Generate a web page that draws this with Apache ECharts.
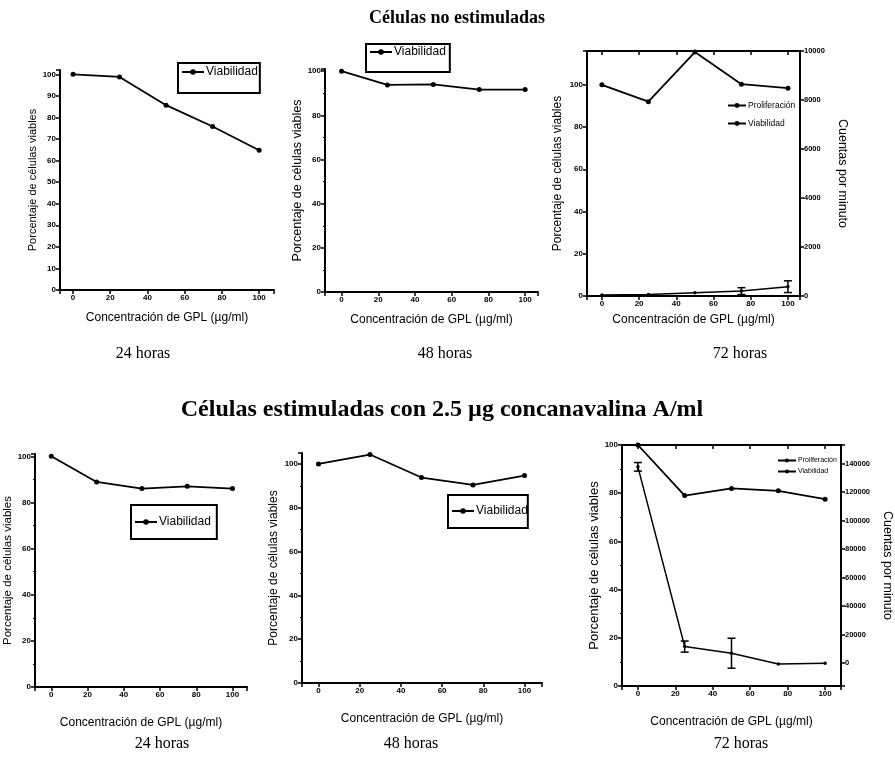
<!DOCTYPE html>
<html><head><meta charset="utf-8">
<script src="https://cdn.jsdelivr.net/npm/echarts@6/dist/echarts.min.js"></script>
<style>html,body{margin:0;padding:0;background:#fff}#c{width:895px;height:760px}</style>
</head><body><div id="c"></div>
<script>
// ---- data ----
const conc = [0, 25, 50, 75, 100];
const xTicks = [0, 20, 40, 60, 80, 100];
// Células no estimuladas
const via24NS = [100, 98.8, 85.7, 75.8, 64.8];
const via48NS = [100, 93.8, 94, 91.7, 91.7];
const via72NS = [100, 92, 115.5, 100.3, 98.4];
const prol72NS = [40, 65, 135, 200, 380];
const prol72NSErr = [0, 0, 0, 140, 240];
// Células estimuladas con concanavalina A
const via24S = [100, 88.9, 86, 87, 86];
const via48S = [100, 104.3, 93.8, 90.4, 94.7];
const via72S = [100, 79, 82, 81, 77.5];
const prol72S = [137700, 11650, 7000, -500, 0];
const prol72SErr = [3000, 3900, 10500, 0, 0];

const titleTop = 'Células no estimuladas';
const titleBottom = 'Células estimuladas con 2.5 µg concanavalina A/ml';
const hourLabels = ['24 horas', '48 horas', '72 horas'];
const xName = 'Concentración de GPL (µg/ml)';
const yName = 'Porcentaje de células viables';
const y2Name = 'Cuentas por minuto';

const pairs = (vals) => conc.map((c, i) => [c, vals[i]]);
const triples = (vals, errs) => conc.map((c, i) => [c, vals[i], errs[i]]).filter(d => d[2] > 0);

const SANS = '"Liberation Sans", Arial, sans-serif';
const SERIF = '"Liberation Serif", "Times New Roman", serif';

const grids = [
  {left: 60, top: 70, width: 214, height: 220},
  {left: 325, top: 69, width: 213, height: 223},
  {left: 587, top: 51, width: 213, height: 245},
  {left: 35, top: 454, width: 212, height: 233},
  {left: 302, top: 453, width: 240, height: 230},
  {left: 622, top: 445, width: 221, height: 241}
];
const xRanges = [[-7, 108], [-9, 107], [-8, 106.5], [-9, 108], [-8, 108.5], [-8.5, 108.5]];
const yRanges = [[0, 102, 10], [0, 101, 20], [0, 116, 20], [0, 101, 20], [0, 105, 20], [0, 100, 20]];
const xNameGap = [22, 22, 18, 30, 30, 30];
const yNameGap = [20, 17, 23, 20, 22, 20];
const yNameSize = [11, 12.5, 12, 11.5, 12, 13];
const yMinor = [false, true, false, true, true, true];

const axisLine = {show: true, onZero: false, lineStyle: {color: '#000', width: 2}};
const axisTick = {show: true, length: 4, lineStyle: {color: '#000', width: 1.5}};
const lblStyle = {color: '#000', fontSize: 8, fontWeight: 'bold', fontFamily: SANS, margin: 4};

const xAxis = grids.map((g, i) => ({
  type: 'value', gridIndex: i, min: xRanges[i][0], max: xRanges[i][1],
  axisLine, axisTick, splitLine: {show: false},
  axisLabel: Object.assign({}, lblStyle, {formatter: v => xTicks.includes(v) ? String(v) : ''}),
  name: xName, nameLocation: 'middle', nameGap: xNameGap[i],
  nameTextStyle: {color: '#000', fontSize: 12, fontFamily: SANS}
}));
// top frame lines for the 72 h panels
[2, 5].forEach(i => xAxis.push({
  type: 'value', gridIndex: i, position: 'top', min: xRanges[i][0], max: xRanges[i][1],
  axisLine, axisTick: {show: true, inside: true, length: 4, lineStyle: {color: '#000', width: 1.5}},
  axisLabel: {show: false}, splitLine: {show: false}
}));

const yAxis = grids.map((g, i) => ({
  type: 'value', gridIndex: i, min: yRanges[i][0], max: yRanges[i][1], interval: yRanges[i][2],
  axisLine, axisTick, splitLine: {show: false},
  minorTick: {show: yMinor[i], splitNumber: 2, length: 2, lineStyle: {color: '#000', width: 1}},
  axisLabel: Object.assign({}, lblStyle, {formatter: v => (v % yRanges[i][2] === 0 && v <= 100) ? String(v) : ''}),
  name: yName, nameLocation: 'middle', nameGap: yNameGap[i],
  nameTextStyle: {color: '#000', fontSize: yNameSize[i], fontFamily: SANS}
}));
yAxis.push({
  type: 'value', gridIndex: 2, position: 'right', min: 0, max: 10000, interval: 2000,
  axisLine, axisTick, splitLine: {show: false},
  axisLabel: Object.assign({}, lblStyle, {fontSize: 7.5, formatter: v => String(v)}),
  name: y2Name, nameLocation: 'middle', nameGap: 36, nameRotate: -90,
  nameTextStyle: {color: '#000', fontSize: 12.5, fontFamily: SANS}
});
yAxis.push({
  type: 'value', gridIndex: 5, position: 'right', min: -16000, max: 153000, splitNumber: 8,
  axisLine, axisTick, splitLine: {show: false},
  axisLabel: Object.assign({}, lblStyle, {fontSize: 7.5, formatter: v => (v % 20000 === 0 && v >= 0 && v <= 140000) ? String(v) : ''}),
  name: y2Name, nameLocation: 'middle', nameGap: 40, nameRotate: -90,
  nameTextStyle: {color: '#000', fontSize: 12.5, fontFamily: SANS}
});

const viaSeries = (vals, xi, yi) => ({
  name: 'Viabilidad', type: 'line', xAxisIndex: xi, yAxisIndex: yi, data: pairs(vals),
  symbol: 'circle', symbolSize: 5, lineStyle: {color: '#000', width: 1.8},
  itemStyle: {color: '#000'}, animation: false, z: 3
});
const prolSeries = (vals, xi, yi) => ({
  name: 'Proliferación', type: 'line', xAxisIndex: xi, yAxisIndex: yi, data: pairs(vals),
  symbol: 'circle', symbolSize: 3.5, lineStyle: {color: '#000', width: 1.5},
  itemStyle: {color: '#000'}, animation: false, z: 3
});
const errSeries = (vals, errs, xi, yi) => ({
  type: 'custom', xAxisIndex: xi, yAxisIndex: yi, data: triples(vals, errs),
  encode: {x: 0, y: 1}, animation: false, z: 4, silent: true,
  renderItem: (params, api) => {
    const x = api.value(0), y = api.value(1), e = api.value(2);
    const hi = api.coord([x, y + e]), lo = api.coord([x, y - e]);
    const st = {stroke: '#000', lineWidth: 1.5};
    return {type: 'group', children: [
      {type: 'line', shape: {x1: hi[0], y1: hi[1], x2: lo[0], y2: lo[1]}, style: st},
      {type: 'line', shape: {x1: hi[0] - 4, y1: hi[1], x2: hi[0] + 4, y2: hi[1]}, style: st},
      {type: 'line', shape: {x1: lo[0] - 4, y1: lo[1], x2: lo[0] + 4, y2: lo[1]}, style: st}
    ]};
  }
});

const series = [
  viaSeries(via24NS, 0, 0),
  viaSeries(via48NS, 1, 1),
  prolSeries(prol72NS, 2, 6),
  viaSeries(via72NS, 2, 2),
  errSeries(prol72NS, prol72NSErr, 2, 6),
  viaSeries(via24S, 3, 3),
  viaSeries(via48S, 4, 4),
  prolSeries(prol72S, 5, 7),
  viaSeries(via72S, 5, 5),
  errSeries(prol72S, prol72SErr, 5, 7)
];

const boxLegend = (left, top, padding) => ({
  data: ['Viabilidad'], left, top, orient: 'vertical', selectedMode: false,
  borderColor: '#000', borderWidth: 2, padding, itemWidth: 22, itemHeight: 7,
  textStyle: {color: '#000', fontSize: 12, fontFamily: SANS, padding: [0, 0, 0, -3]}
});
const legend = [
  boxLegend(178, 63, [3, 2, 15, 3]),
  boxLegend(366, 44, [2, 4, 14, 3]),
  boxLegend(131, 505, [11, 6, 11, 3]),
  boxLegend(448, 495, [10, 0, 11, 3]),
  {data: ['Proliferación', 'Viabilidad'], left: 722, top: 96, orient: 'vertical', selectedMode: false,
   itemWidth: 18, itemHeight: 6, itemGap: 9, textStyle: {color: '#000', fontSize: 8.5, fontFamily: SANS, padding: [0, 0, 0, -3]}},
  {data: ['Proliferación', 'Viabilidad'], left: 777, top: 457, orient: 'vertical', selectedMode: false,
   padding: 0, itemWidth: 18, itemHeight: 5, itemGap: 4, textStyle: {color: '#000', fontSize: 7, fontFamily: SANS, padding: [0, 0, 0, -3]}}
];

const txt = (text, x, y, font) => ({
  type: 'text', x, y, silent: true,
  style: {text, font, fill: '#000', align: 'center', verticalAlign: 'middle', textAlign: 'center', textVerticalAlign: 'middle'}
});
const hourTop = [[143, 354], [445, 354], [740, 354]];
const hourBot = [[162, 744], [411, 744], [741, 744]];
const graphic = [
  txt(titleTop, 457, 18, 'bold 18px ' + SERIF),
  txt(titleBottom, 442, 410, 'bold 24px ' + SERIF)
].concat(hourLabels.map((h, i) => txt(h, hourTop[i][0], hourTop[i][1], '16px ' + SERIF)))
 .concat(hourLabels.map((h, i) => txt(h, hourBot[i][0], hourBot[i][1], '16px ' + SERIF)));

const chart = echarts.init(document.getElementById('c'), null, {renderer: 'canvas'});
chart.setOption({
  backgroundColor: '#fff', animation: false,
  grid: grids, xAxis, yAxis, series, legend, graphic
});
</script></body></html>
